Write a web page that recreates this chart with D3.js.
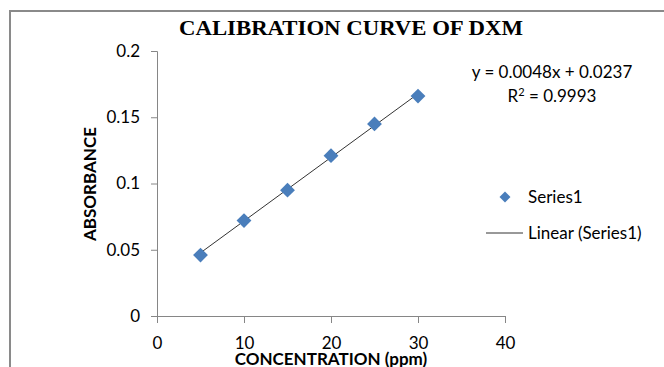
<!DOCTYPE html>
<html>
<head>
<meta charset="utf-8">
<script src="https://cdn.jsdelivr.net/npm/d3@7"></script>
<style>
  body { margin: 0; background: #fff; }
  text { font-family: Lato, "Open Sans", sans-serif; fill: #000; }
</style>
</head>
<body>
<div id="chart-area"></div>
<script>
// data
var concentration = [5, 10, 15, 20, 25, 30];
var absorbance = [0.046, 0.072, 0.095, 0.121, 0.145, 0.166];
var xTicks = [0, 10, 20, 30, 40];
var yTicks = [0, 0.05, 0.1, 0.15, 0.2];
var slope = 0.0048, intercept = 0.0237;

var W = 664, H = 367;
var svg = d3.select("#chart-area").append("svg")
    .attr("width", W).attr("height", H);

// chart border (runs off the right and bottom)
svg.append("rect")
    .attr("x", 10).attr("y", 11)
    .attr("width", 700).attr("height", 400)
    .attr("fill", "none").attr("stroke", "#8a8a8a").attr("stroke-width", 2);

var x = d3.scaleLinear().domain([0, 40]).range([157, 505]);
var y = d3.scaleLinear().domain([0, 0.2]).range([316, 51]);

// title
svg.append("text")
    .attr("x", 351).attr("y", 35)
    .attr("text-anchor", "middle")
    .attr("textLength", 344).attr("lengthAdjust", "spacingAndGlyphs")
    .style("font-family", "'Liberation Serif', serif")
    .style("font-weight", "bold").style("font-size", "21px")
    .text("CALIBRATION CURVE OF DXM");

// axes
var yAxis = svg.append("g")
    .attr("transform", "translate(157,0)")
    .call(d3.axisLeft(y).tickValues(yTicks).tickSize(6).tickPadding(11)
        .tickFormat(function(d){ return d; }));
var xAxis = svg.append("g")
    .attr("transform", "translate(0,316)")
    .call(d3.axisBottom(x).tickValues(xTicks).tickSize(7).tickPadding(14));
[xAxis, yAxis].forEach(function(a){
    a.select(".domain").attr("stroke", "#868686");
    a.selectAll(".tick line").attr("stroke", "#868686");
    a.selectAll(".tick text").style("font-size", "17px")
        .style("font-family", "Lato, sans-serif").attr("fill", "#000");
});

// axis titles
svg.append("text")
    .attr("x", 331).attr("y", 365)
    .attr("text-anchor", "middle")
    .style("font-weight", "bold").style("font-size", "17px")
    .text("CONCENTRATION (ppm)");
svg.append("text")
    .attr("transform", "translate(96,184) rotate(-90)")
    .attr("text-anchor", "middle")
    .style("font-weight", "bold").style("font-size", "17px")
    .text("ABSORBANCE");

// trendline
svg.append("line")
    .attr("x1", x(5)).attr("y1", y(slope * 5 + intercept))
    .attr("x2", x(30)).attr("y2", y(slope * 30 + intercept))
    .attr("stroke", "#333").attr("stroke-width", 1);

// markers
var diamond = d3.symbol().type(d3.symbolSquare).size(110);
svg.selectAll(".pt")
    .data(concentration)
    .enter().append("path")
        .attr("class", "pt")
        .attr("d", diamond)
        .attr("transform", function(d, i){
            return "translate(" + x(d) + "," + y(absorbance[i]) + ") rotate(45)";
        })
        .attr("fill", "#4a7ebb");

// equation
svg.append("text")
    .attr("x", 552).attr("y", 78)
    .attr("text-anchor", "middle").style("font-size", "17px")
    .text("y = 0.0048x + 0.0237");
var r2 = svg.append("text")
    .attr("x", 552).attr("y", 102)
    .attr("text-anchor", "middle").style("font-size", "17px");
r2.append("tspan").text("R");
r2.append("tspan").attr("dy", -6).style("font-size", "11px").text("2");
r2.append("tspan").attr("dy", 6).text(" = 0.9993");

// legend
svg.append("path")
    .attr("d", d3.symbol().type(d3.symbolSquare).size(60))
    .attr("transform", "translate(505,197) rotate(45)")
    .attr("fill", "#4a7ebb");
svg.append("text")
    .attr("x", 528).attr("y", 203).style("font-size", "17px")
    .text("Series1");
svg.append("line")
    .attr("x1", 486).attr("x2", 523).attr("y1", 233).attr("y2", 233)
    .attr("stroke", "#333").attr("stroke-width", 1);
svg.append("text")
    .attr("x", 528).attr("y", 239).style("font-size", "17px")
    .text("Linear (Series1)");
</script>
</body>
</html>
